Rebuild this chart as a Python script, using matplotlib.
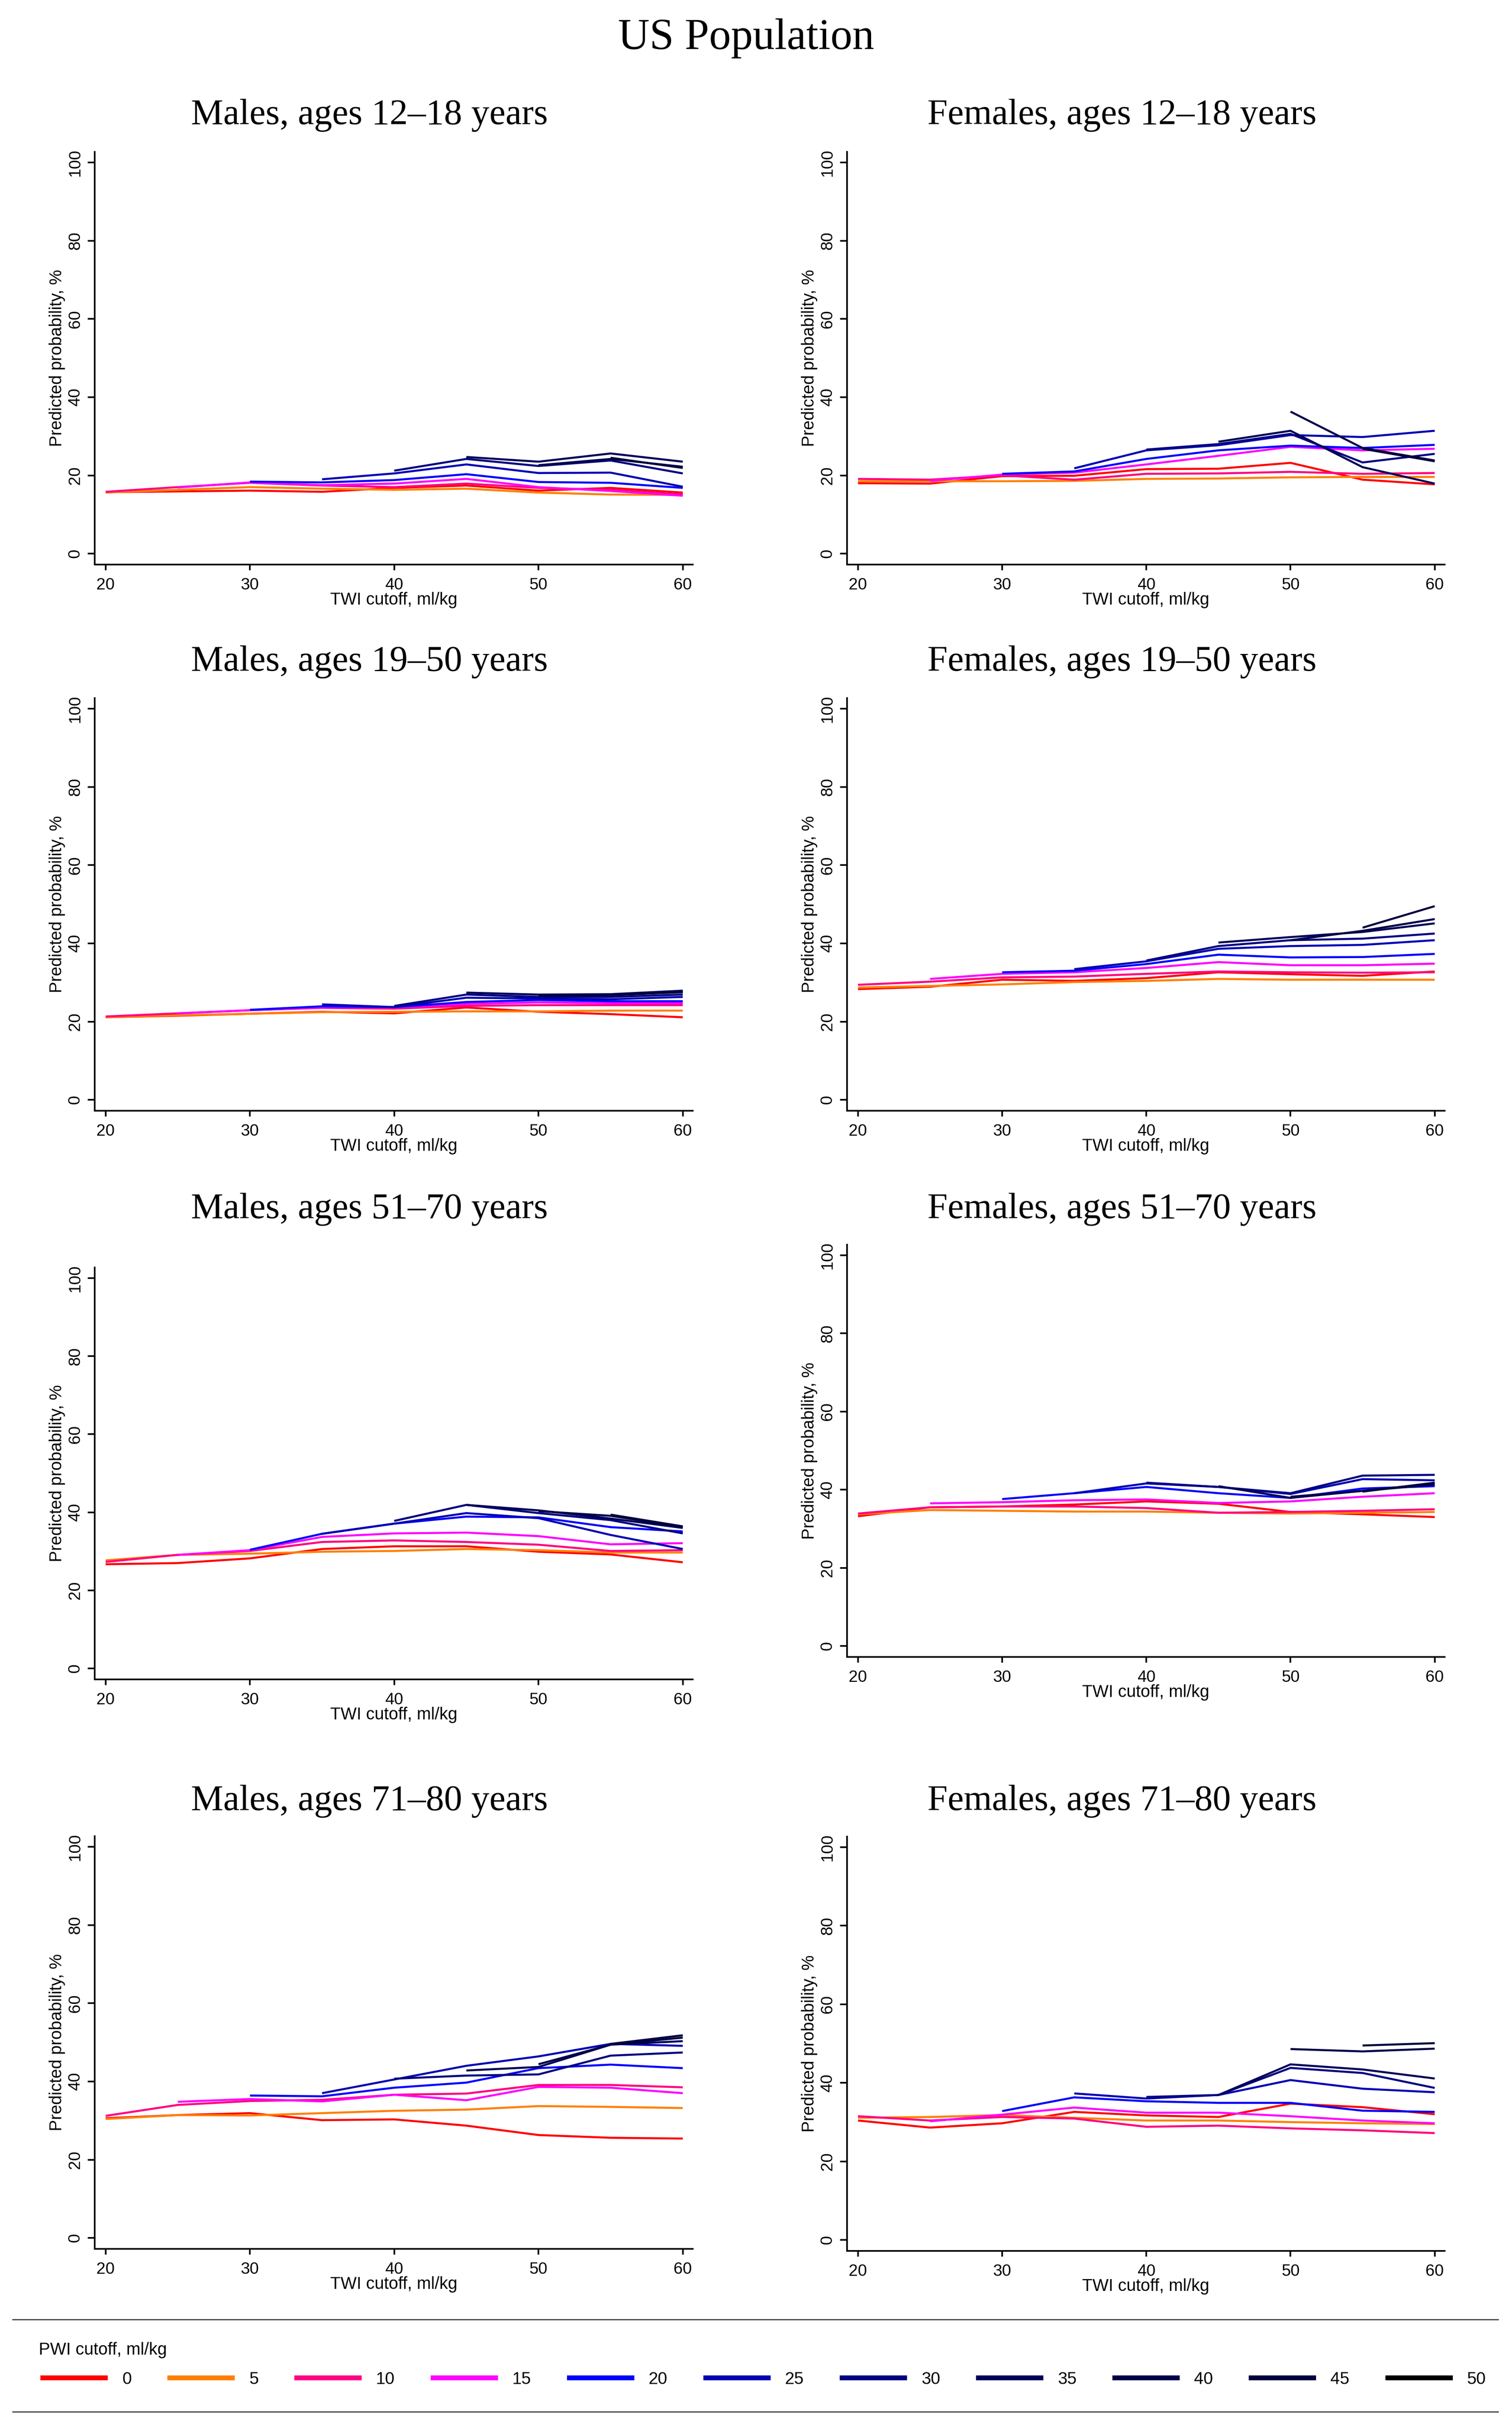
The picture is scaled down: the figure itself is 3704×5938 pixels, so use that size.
"""Predicted probability by TWI / PWI cutoff, US population panels."""

import matplotlib
matplotlib.use("Agg")
import matplotlib.pyplot as plt
from matplotlib.lines import Line2D

plt.rcParams['font.family'] = ['Liberation Sans', 'DejaVu Sans']

TWI = [20, 25, 30, 35, 40, 45, 50, 55, 60]
PWI = [0, 5, 10, 15, 20, 25, 30, 35, 40, 45, 50]
# first TWI cutoff with an estimate for each PWI cutoff
SERIES_START = [20, 20, 20, 25, 30, 35, 40, 45, 50, 55, 60]
PWI_COLORS = ['#FF0000', '#FF8000', '#FF0080', '#FF00FF', '#0000FF', '#0000B4',
              '#000080', '#000058', '#000048', '#00003C', '#000000']

# predicted probability (%), one list per PWI cutoff
MALES_12_18 = [
    [15.7, 15.9, 16.1, 15.8, 16.8, 17.4, 16.1, 16.8, 15.6],
    [15.6, 16.3, 17.0, 16.6, 16.3, 16.6, 15.6, 15.1, 15.0],
    [15.8, 17.0, 18.1, 17.4, 17.0, 17.9, 16.8, 16.3, 15.1],
    [16.9, 18.2, 17.5, 17.9, 19.1, 17.0, 16.0, 14.8],
    [18.4, 18.2, 18.8, 20.3, 18.3, 18.1, 16.8],
    [19.0, 20.5, 22.8, 20.6, 20.7, 17.1],
    [21.2, 24.2, 22.4, 23.8, 20.5],
    [24.7, 23.5, 25.6, 23.5],
    [22.6, 24.2, 22.2],
    [24.5, 21.9],
    [],
]
FEMALES_12_18 = [
    [18.0, 17.9, 19.8, 19.9, 21.6, 21.7, 23.2, 18.9, 17.7],
    [18.5, 18.5, 18.5, 18.6, 19.1, 19.2, 19.5, 19.6, 19.6],
    [19.1, 18.9, 20.0, 18.9, 20.4, 20.5, 20.9, 20.4, 20.6],
    [18.6, 20.2, 20.7, 22.8, 25.0, 27.3, 26.4, 26.8],
    [20.4, 21.0, 24.2, 26.4, 27.6, 27.0, 27.8],
    [21.8, 26.4, 27.7, 30.3, 29.8, 31.4],
    [26.6, 28.0, 30.6, 23.3, 25.5],
    [28.6, 31.4, 22.1, 17.9],
    [36.3, 27.0, 23.8],
    [26.8, 23.6],
    [],
]
MALES_19_50 = [
    [21.1, 21.5, 22.0, 22.5, 22.1, 23.6, 22.5, 21.9, 21.1],
    [21.1, 21.6, 22.0, 22.4, 22.5, 22.6, 22.6, 22.8, 22.8],
    [21.3, 22.1, 22.9, 23.5, 23.3, 24.0, 24.2, 24.2, 24.2],
    [22.1, 22.9, 23.6, 23.6, 24.5, 24.9, 24.7, 24.7],
    [23.0, 23.9, 23.7, 25.0, 25.5, 25.2, 25.2],
    [24.4, 23.7, 26.1, 25.9, 25.7, 26.3],
    [24.0, 26.9, 26.3, 26.3, 26.9],
    [27.4, 26.9, 27.0, 27.9],
    [26.6, 26.8, 27.5],
    [26.8, 27.6],
    [],
]
FEMALES_19_50 = [
    [28.3, 28.9, 30.7, 30.4, 31.1, 32.6, 32.1, 31.7, 32.8],
    [28.7, 29.1, 29.5, 30.1, 30.4, 30.9, 30.7, 30.7, 30.7],
    [29.4, 30.2, 31.3, 31.5, 32.2, 32.8, 32.6, 32.5, 32.6],
    [30.9, 32.2, 32.6, 33.7, 35.2, 34.4, 34.4, 34.8],
    [32.6, 33.0, 34.7, 37.1, 36.4, 36.5, 37.3],
    [33.4, 35.4, 38.6, 39.3, 39.6, 40.8],
    [35.6, 39.3, 40.8, 41.2, 42.5],
    [40.2, 41.6, 42.9, 45.1],
    [40.8, 43.2, 46.2],
    [44.0, 49.5],
    [],
]
MALES_51_70 = [
    [26.7, 27.0, 28.2, 30.6, 31.3, 31.3, 29.9, 29.2, 27.2],
    [27.7, 29.1, 29.4, 29.9, 30.1, 30.6, 30.3, 29.7, 29.7],
    [27.3, 29.1, 30.1, 32.4, 32.8, 32.4, 31.7, 30.1, 30.3],
    [29.1, 30.3, 33.7, 34.6, 34.8, 33.9, 31.8, 32.1],
    [30.4, 34.5, 37.1, 38.9, 38.7, 36.2, 35.1],
    [34.5, 37.1, 39.8, 38.5, 34.2, 30.6],
    [37.8, 41.9, 39.8, 38.0, 34.6],
    [41.9, 40.5, 38.4, 36.0],
    [40.3, 39.1, 36.2],
    [39.4, 36.4],
    [],
]
FEMALES_51_70 = [
    [33.2, 35.5, 35.7, 36.2, 37.0, 36.4, 34.3, 33.7, 33.0],
    [33.7, 34.8, 34.6, 34.4, 34.4, 34.1, 33.9, 34.1, 34.3],
    [33.9, 35.5, 35.7, 35.7, 35.3, 34.1, 34.3, 34.6, 35.0],
    [36.5, 36.8, 37.3, 37.5, 36.6, 37.0, 38.2, 39.1],
    [37.6, 39.1, 40.7, 39.1, 37.9, 40.3, 40.9],
    [39.1, 41.6, 40.7, 38.9, 42.7, 42.4],
    [41.8, 40.7, 39.1, 43.6, 43.8],
    [40.9, 37.9, 39.7, 41.3],
    [38.2, 39.7, 41.6],
    [39.5, 41.8],
    [],
]
MALES_71_80 = [
    [30.6, 31.4, 31.9, 30.1, 30.3, 28.7, 26.3, 25.6, 25.4],
    [30.4, 31.4, 31.3, 31.9, 32.5, 32.8, 33.7, 33.5, 33.2],
    [31.2, 34.0, 35.0, 35.3, 36.6, 36.9, 39.1, 39.1, 38.5],
    [34.8, 35.5, 34.9, 36.6, 35.2, 38.6, 38.4, 37.0],
    [36.4, 36.2, 38.4, 39.7, 43.4, 44.3, 43.4],
    [37.0, 40.5, 44.0, 46.4, 49.6, 49.1],
    [40.7, 41.5, 41.8, 46.6, 47.4],
    [42.8, 43.7, 49.4, 50.3],
    [44.4, 49.4, 51.2],
    [49.6, 51.8],
    [],
]
FEMALES_71_80 = [
    [30.4, 28.6, 29.7, 32.6, 31.7, 31.3, 34.7, 33.8, 32.0],
    [31.1, 31.3, 31.8, 31.1, 30.4, 30.4, 30.0, 29.7, 29.5],
    [31.5, 30.4, 31.3, 30.9, 28.8, 29.1, 28.4, 27.9, 27.2],
    [30.2, 31.9, 33.7, 32.4, 32.4, 31.5, 30.4, 29.7],
    [32.8, 36.3, 35.3, 34.9, 34.9, 32.9, 32.6],
    [37.3, 36.0, 36.9, 40.7, 38.5, 37.6],
    [36.4, 36.9, 43.8, 42.5, 38.7],
    [36.9, 44.7, 43.4, 41.1],
    [48.6, 48.0, 48.7],
    [49.5, 50.1],
    [],
]

PANEL_TITLES = ['Males, ages 12\u201318 years', 'Females, ages 12\u201318 years',
                'Males, ages 19\u201350 years', 'Females, ages 19\u201350 years',
                'Males, ages 51\u201370 years', 'Females, ages 51\u201370 years',
                'Males, ages 71\u201380 years', 'Females, ages 71\u201380 years']
PANEL_DATA = [MALES_12_18, FEMALES_12_18, MALES_19_50, FEMALES_19_50,
              MALES_51_70, FEMALES_51_70, MALES_71_80, FEMALES_71_80]

# layout in pixels: (left, right, top, bottom) of each axis frame
PANEL_BOXES = [(232, 1697, 372, 1383), (2075, 3539, 372, 1383),
               (232, 1697, 1710, 2721), (2075, 3539, 1710, 2721),
               (232, 1697, 3105, 4114), (2075, 3539, 3049, 4059),
               (232, 1697, 4498, 5509), (2075, 3539, 4499, 5514)]
TITLE_X = [905, 2749]
TITLE_BASELINE = [304, 1643, 2984, 4434]

W, H = 3705, 5938
SERIF = ['Liberation Serif', 'DejaVu Serif']

fig = plt.figure(figsize=(W / 100, H / 100), dpi=100)
fig.patch.set_facecolor('white')

fig.text(1828 / W, 1 - 120 / H, 'US Population', family=SERIF, fontsize=77,
         ha='center', va='baseline')

for k, (title, data) in enumerate(zip(PANEL_TITLES, PANEL_DATA)):
    l, r, t, b = PANEL_BOXES[k]
    ax = fig.add_axes([l / W, 1 - b / H, (r - l) / W, (b - t) / H])

    for i, vals in enumerate(data):
        if not vals:
            continue
        xs = [x for x in TWI if x >= SERIES_START[i]]
        ax.plot(xs, vals, color=PWI_COLORS[i], lw=3.6, solid_capstyle='butt',
                solid_joinstyle='miter')

    ax.set_xlim(19.24, 60.69)
    ax.set_ylim(-2.8, 102.7)
    ax.set_xticks([20, 30, 40, 50, 60])
    ax.set_yticks([0, 20, 40, 60, 80, 100])
    for side in ('top', 'right'):
        ax.spines[side].set_visible(False)
    for side in ('left', 'bottom'):
        ax.spines[side].set_linewidth(2.9)
    ax.tick_params(axis='x', length=10, width=2.9, pad=12, labelsize=29)
    ax.tick_params(axis='y', length=12, width=2.9, pad=9, labelsize=29,
                   labelrotation=90)
    for lab in ax.get_yticklabels():
        lab.set_va('center')

    ax.set_xlabel('TWI cutoff, ml/kg', fontsize=30)
    ax.set_ylabel('Predicted probability, %', fontsize=30)
    ax.xaxis.set_label_coords(0.5, -(1450 - 1383) / (b - t))
    ax.yaxis.set_label_coords(-(232 - 160) / (r - l), 0.5)

    fig.text(TITLE_X[k % 2] / W, 1 - TITLE_BASELINE[k // 2] / H, title,
             family=SERIF, fontsize=64, ha='center', va='baseline')

# legend block
for y in (5682, 5908):
    fig.add_artist(Line2D([31 / W, 3670 / W], [1 - y / H, 1 - y / H],
                          transform=fig.transFigure, color='#3a3a3a', lw=2))
fig.text(95 / W, 1 - 5768 / H, 'PWI cutoff, ml/kg', fontsize=30, va='baseline')

handles = [Line2D([], [], color=c, lw=8.6, solid_capstyle='butt') for c in PWI_COLORS]
labels = [str(p) for p in PWI]
fig.legend(handles, labels, ncol=11, loc='center left', mode='expand',
           bbox_to_anchor=(99 / W, 1 - 5829 / H, (3640 - 99) / W, 0.0),
           frameon=False, fontsize=30, handlelength=3.96, handletextpad=0.84,
           borderpad=0, borderaxespad=0, columnspacing=1.0)

fig.savefig('out.png', dpi=100, facecolor='white')
